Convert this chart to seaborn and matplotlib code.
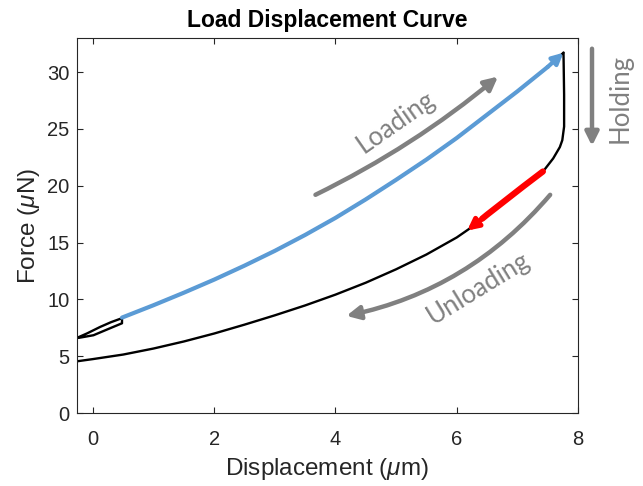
import numpy as np
import pandas as pd
import matplotlib
matplotlib.use("Agg")
import matplotlib.pyplot as plt
import seaborn as sns

# ---- data ----
loop_x = [-0.27, -0.1, 0.12, 0.3, 0.48, 0.48, 0.3, 0.01, -0.2, -0.27]
loop_y = [6.6, 7.0, 7.58, 8.0, 8.35, 7.9, 7.5, 6.85, 6.65, 6.6]

load_x = [0.48, 1.0, 1.5, 2.0, 2.5, 3.0, 3.5, 4.0, 4.5, 5.0, 5.5, 6.0, 6.5, 7.0, 7.5, 7.76]
load_y = [8.4, 9.49, 10.59, 11.74, 12.97, 14.27, 15.67, 17.17, 18.8, 20.52, 22.3, 24.2,
          26.25, 28.3, 30.45, 31.7]

unload_x = [7.76, 7.77, 7.77, 7.74, 7.70, 7.59, 7.43, 7.1, 6.8, 6.5, 6.19, 6.0, 5.5,
            5.0, 4.5, 4.0, 3.5, 3.0, 2.5, 2.0, 1.5, 1.0, 0.5, 0.0, -0.27]
unload_y = [31.7, 28.0, 25.2, 24.0, 23.4, 22.4, 21.3, 19.95, 18.7, 17.45, 16.15, 15.45, 13.95,
            12.65, 11.47, 10.42, 9.47, 8.6, 7.78, 7.0, 6.3, 5.68, 5.15, 4.75, 4.55]

# highlighted segments
blue_x = load_x[:-1]
blue_y = load_y[:-1]
red_x = [7.42, 7.1, 6.8, 6.5, 6.42]
red_y = [21.25, 19.95, 18.7, 17.45, 17.1]

xticks = [0, 2, 4, 6, 8]
yticks = [0, 5, 10, 15, 20, 25, 30]

# ---- style ----
sns.set_theme(style="white")
plt.rcParams["font.family"] = ["Liberation Sans", "DejaVu Sans"]
plt.rcParams["mathtext.fontset"] = "custom"
plt.rcParams["mathtext.rm"] = "Liberation Sans"
plt.rcParams["mathtext.it"] = "Liberation Sans:italic"

axc = "#262626"
fig = plt.figure(figsize=(6.43, 4.86), dpi=100)
ax = fig.add_axes([0.119, 0.150, 0.780, 0.772])

df_loop = pd.DataFrame({"x": loop_x, "y": loop_y})
df_load = pd.DataFrame({"x": load_x, "y": load_y})
df_unload = pd.DataFrame({"x": unload_x, "y": unload_y})
df_blue = pd.DataFrame({"x": blue_x, "y": blue_y})
df_red = pd.DataFrame({"x": red_x, "y": red_y})

for d in (df_loop, df_load, df_unload):
    sns.lineplot(data=d, x="x", y="y", sort=False, estimator=None, color="black", lw=1.7, ax=ax)

sns.lineplot(data=df_blue, x="x", y="y", sort=False, estimator=None, color="#5B9BD5", lw=3.0, ax=ax)
ax.annotate("", xy=(load_x[-1], load_y[-1]), xytext=(blue_x[-1], blue_y[-1]),
            arrowprops=dict(arrowstyle="-|>", color="#5B9BD5", lw=3.0, mutation_scale=16,
                            shrinkA=0, shrinkB=0))

sns.lineplot(data=df_red, x="x", y="y", sort=False, estimator=None, color="#FF0000", lw=4.5, ax=ax)
ax.annotate("", xy=(6.17, 16.05), xytext=(red_x[-1], red_y[-1]),
            arrowprops=dict(arrowstyle="-|>", color="#FF0000", lw=3.5, mutation_scale=16,
                            shrinkA=0, shrinkB=0))

gray = "#808080"
ax.annotate("", xy=(6.68, 29.6), xytext=(3.67, 19.2),
            arrowprops=dict(arrowstyle="-|>", color=gray, lw=3.2, mutation_scale=20,
                            connectionstyle="arc3,rad=0.06", shrinkA=0, shrinkB=0))
ax.annotate("", xy=(4.18, 8.55), xytext=(7.54, 19.2),
            arrowprops=dict(arrowstyle="-|>", color=gray, lw=3.2, mutation_scale=20,
                            connectionstyle="arc3,rad=-0.17", shrinkA=0, shrinkB=0))
ax.annotate("", xy=(8.23, 23.5), xytext=(8.23, 32.05), annotation_clip=False,
            arrowprops=dict(arrowstyle="-|>", color=gray, lw=3.2, mutation_scale=20,
                            shrinkA=0, shrinkB=0))

tfont = ["Lato", "DejaVu Sans"]
ax.text(5.0, 25.6, "Loading", rotation=35, ha="center", va="center", color=gray,
        fontsize=18.5, family=tfont, rotation_mode="anchor")
ax.text(6.36, 10.96, "Unloading", rotation=31.5, ha="center", va="center", color=gray,
        fontsize=18.5, family=tfont, rotation_mode="anchor")
ax.text(8.69, 27.65, "Holding", rotation=90, ha="center", va="center", color=gray,
        fontsize=18.5, family=tfont, clip_on=False)

ax.set_xlim(-0.27, 8)
ax.set_ylim(0, 33)
ax.set_xticks(xticks)
ax.set_yticks(yticks)
ax.tick_params(direction="in", length=4, width=0.8, colors=axc, labelsize=14.5,
               top=True, right=True, bottom=True, left=True, pad=5)
ax.tick_params(axis="x", pad=12)
for s in ax.spines.values():
    s.set_color(axc)
    s.set_linewidth(0.8)
    s.set_visible(True)

ax.set_xlabel(r"Displacement ($\mu$m)", fontsize=17.5, color=axc, labelpad=5)
ax.set_ylabel(r"Force ($\mu$N)", fontsize=17.5, color=axc, labelpad=4)
ax.set_title("Load Displacement Curve", fontsize=16.5, fontweight="bold", color="black", pad=8)

fig.savefig("out.png", dpi=100)
